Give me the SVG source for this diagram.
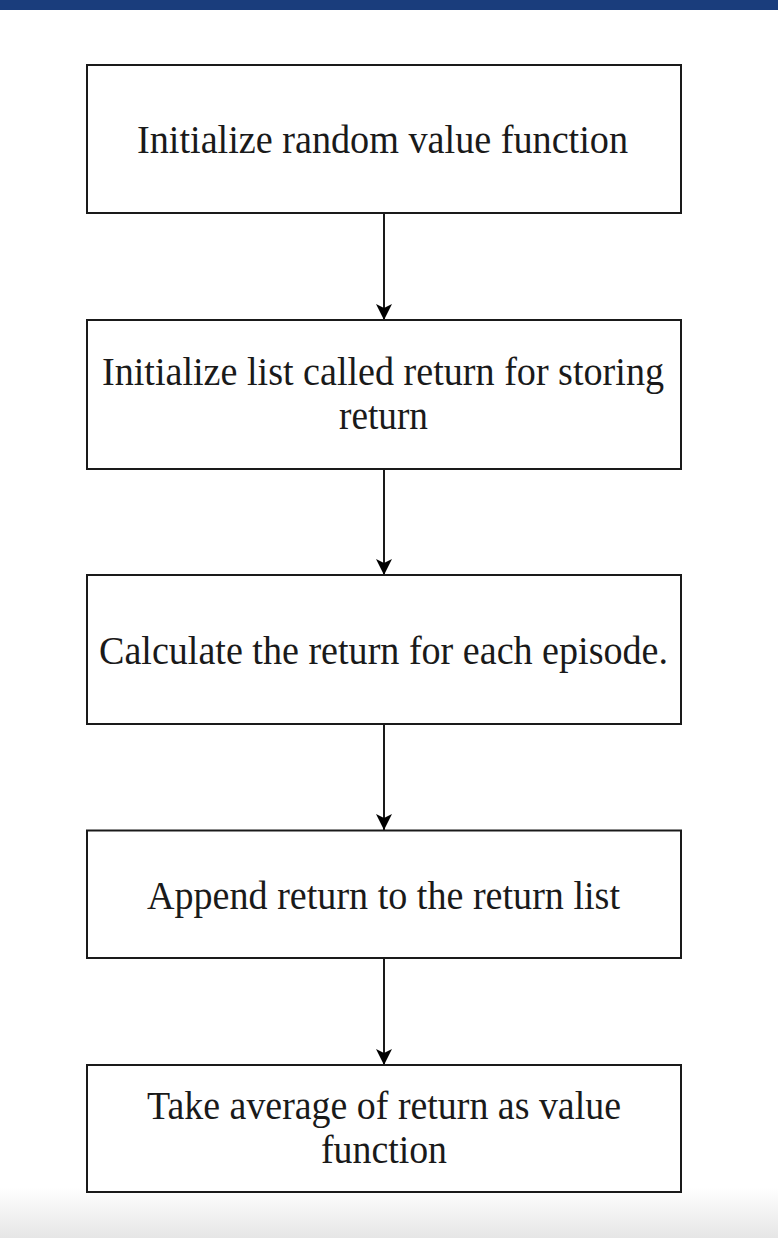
<svg xmlns="http://www.w3.org/2000/svg" width="778" height="1238" viewBox="0 0 778 1238">
  <style>
    .box { fill: #ffffff; stroke: #1a1a1a; stroke-width: 2; }
    .lbl { font-family: "Liberation Serif", "Times New Roman", serif; font-size: 40px; fill: #1a1a1a; text-anchor: middle; }
    .edge { stroke: #1a1a1a; stroke-width: 2; fill: none; }
  </style>
  <defs>
    <linearGradient id="fade" x1="0" y1="0" x2="0" y2="1">
      <stop offset="0" stop-color="#ffffff"/>
      <stop offset="1" stop-color="#e6e6e6"/>
    </linearGradient>
    <marker id="arrow" markerUnits="userSpaceOnUse" markerWidth="20" markerHeight="20" viewBox="-18 -9 20 18" refX="0" refY="0" orient="auto">
      <path d="M0,0 L-16,-8 L-12,0 L-16,8 Z" fill="#000000"/>
    </marker>
  </defs>
  <rect x="0" y="0" width="778" height="1238" fill="#ffffff"/>
  <rect x="0" y="1188" width="778" height="50" fill="url(#fade)"/>
  <rect x="0" y="0" width="778" height="10" fill="#1a3d7c"/>

  <g id="connectors">
    <line class="edge" x1="384" y1="213" x2="384" y2="320" marker-end="url(#arrow)"/>
    <line class="edge" x1="384" y1="469" x2="384" y2="575" marker-end="url(#arrow)"/>
    <line class="edge" x1="384" y1="724" x2="384" y2="830" marker-end="url(#arrow)"/>
    <line class="edge" x1="384" y1="958" x2="384" y2="1065" marker-end="url(#arrow)"/>
  </g>

  <g id="node1">
    <rect class="box" x="87" y="65" width="594" height="148"/>
    <text class="lbl" x="382.5" y="153" textLength="491" lengthAdjust="spacingAndGlyphs">Initialize random value function</text>
  </g>
  <g id="node2">
    <rect class="box" x="87" y="320" width="594" height="149"/>
    <text class="lbl" x="383" y="385" textLength="562" lengthAdjust="spacingAndGlyphs">Initialize list called return for storing</text>
    <text class="lbl" x="383.5" y="429" textLength="89" lengthAdjust="spacingAndGlyphs">return</text>
  </g>
  <g id="node3">
    <rect class="box" x="87" y="575" width="594" height="149"/>
    <text class="lbl" x="383.5" y="664" textLength="569" lengthAdjust="spacingAndGlyphs">Calculate the return for each episode.</text>
  </g>
  <g id="node4">
    <rect class="box" x="87" y="830.5" width="594" height="127.5"/>
    <text class="lbl" x="383.5" y="909" textLength="473" lengthAdjust="spacingAndGlyphs">Append return to the return list</text>
  </g>
  <g id="node5">
    <rect class="box" x="87" y="1065" width="594" height="127"/>
    <text class="lbl" x="384" y="1119" textLength="474" lengthAdjust="spacingAndGlyphs">Take average of return as value</text>
    <text class="lbl" x="384" y="1163" textLength="126" lengthAdjust="spacingAndGlyphs">function</text>
  </g>
</svg>
